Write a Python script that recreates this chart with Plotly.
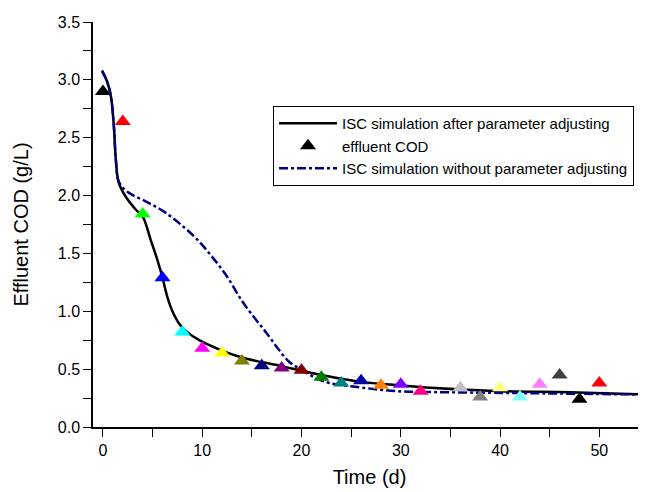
import plotly.graph_objects as go

# measured effluent COD (triangles)
obs_time = [0, 2, 4, 6, 8, 10, 12, 14, 16, 18, 20, 22, 24, 26, 28, 30, 32,
            36, 38, 40, 42, 44, 46, 48, 50]
obs_cod = [2.90, 2.64, 1.84, 1.29, 0.82, 0.68, 0.64, 0.57, 0.53, 0.51, 0.49,
           0.43, 0.38, 0.40, 0.36, 0.37, 0.31, 0.34, 0.26, 0.34, 0.26, 0.37,
           0.45, 0.24, 0.38]
obs_colors = ["#000000", "#ff0000", "#00ff00", "#0000ff", "#00ffff", "#ff00ff",
              "#ffff00", "#808000", "#000080", "#800080", "#800000", "#008000",
              "#008080", "#0000a0", "#ff8000", "#8000ff", "#ff0080", "#c0c0c0",
              "#808080", "#ffff80", "#80ffff", "#ff80ff", "#404040", "#000000",
              "#ff0000"]

# simulation after parameter adjusting (solid black)
fit_time = [-0.1, 0.4, 0.8, 1.1, 1.3, 1.6, 2.3, 3.3, 4.0, 4.8, 5.5, 6.0, 6.5,
            7.0, 7.7, 8.5, 9.7, 12, 14, 17.8, 22, 26, 30, 33, 40, 47, 55]
fit_cod = [3.08, 2.99, 2.86, 2.60, 2.31, 2.11, 1.99, 1.88, 1.82, 1.62, 1.44,
           1.29, 1.12, 1.00, 0.89, 0.82, 0.75, 0.66, 0.60, 0.53, 0.45, 0.39,
           0.36, 0.34, 0.31, 0.30, 0.28]

# simulation without parameter adjusting (navy dash-dot)
raw_time = [-0.1, 0.4, 0.8, 1.1, 1.3, 1.6, 2.5, 4.3, 6.0, 7.7, 9.5, 11, 12.5,
            14, 15.3, 16.5, 17.7, 18.8, 20.1, 21.5, 22.8, 25.2, 29.6, 35, 45, 55]
raw_cod = [3.08, 2.99, 2.86, 2.60, 2.31, 2.12, 2.03, 1.95, 1.87, 1.76, 1.62,
           1.47, 1.30, 1.09, 0.94, 0.81, 0.67, 0.56, 0.49, 0.42, 0.38, 0.35,
           0.31, 0.30, 0.29, 0.28]

fig = go.Figure()
fig.add_trace(go.Scatter(
    x=fit_time, y=fit_cod, mode="lines",
    line=dict(color="black", width=2.5, shape="spline"),
    name="ISC simulation after parameter adjusting"))
# legend entry for the points is drawn black, the points themselves are multicolored
fig.add_trace(go.Scatter(
    x=[None], y=[None], mode="markers",
    marker=dict(symbol="triangle-up", size=14, color="black"),
    name="effluent COD"))
fig.add_trace(go.Scatter(
    x=raw_time, y=raw_cod, mode="lines",
    line=dict(color="#000080", width=2.5, dash="dashdot", shape="spline"),
    name="ISC simulation without parameter adjusting"))
fig.add_trace(go.Scatter(
    x=obs_time, y=obs_cod, mode="markers", showlegend=False,
    marker=dict(symbol="triangle-up", size=14, color=obs_colors),
    name="effluent COD"))

axis_style = dict(
    showgrid=False, zeroline=False, showline=True, linecolor="black", linewidth=1.5,
    ticks="outside", ticklen=8, tickwidth=1.2, tickcolor="black",
    tickfont=dict(size=16, color="black"),
)
fig.update_xaxes(
    **axis_style, range=[-1.0, 54.7], tickvals=[0, 10, 20, 30, 40, 50],
    minor=dict(ticks="outside", ticklen=8, tickcolor="black", dtick=5, tick0=0),
    title=dict(text="Time (d)", font=dict(size=20, color="black"), standoff=12))
fig.update_yaxes(
    **axis_style, range=[0, 3.5], dtick=0.5, tickformat=".1f",
    minor=dict(ticks="outside", ticklen=8, tickcolor="black", dtick=0.25),
    title=dict(text="Effluent COD (g/L)", font=dict(size=20, color="black"), standoff=24))

# page body adds 8px margin, so the figure is sized to fit inside it
fig.update_layout(
    width=638, height=484,
    margin=dict(l=85, r=0, t=14, b=65),
    plot_bgcolor="white", paper_bgcolor="white",
    font=dict(family="Liberation Sans, Arial", size=15, color="black"),
    legend=dict(x=0.3255, y=0.7926, xanchor="left", yanchor="top",
                bordercolor="black", borderwidth=1, bgcolor="white",
                font=dict(size=15), tracegroupgap=0, itemwidth=58),
)

fig.write_html("out.html")
